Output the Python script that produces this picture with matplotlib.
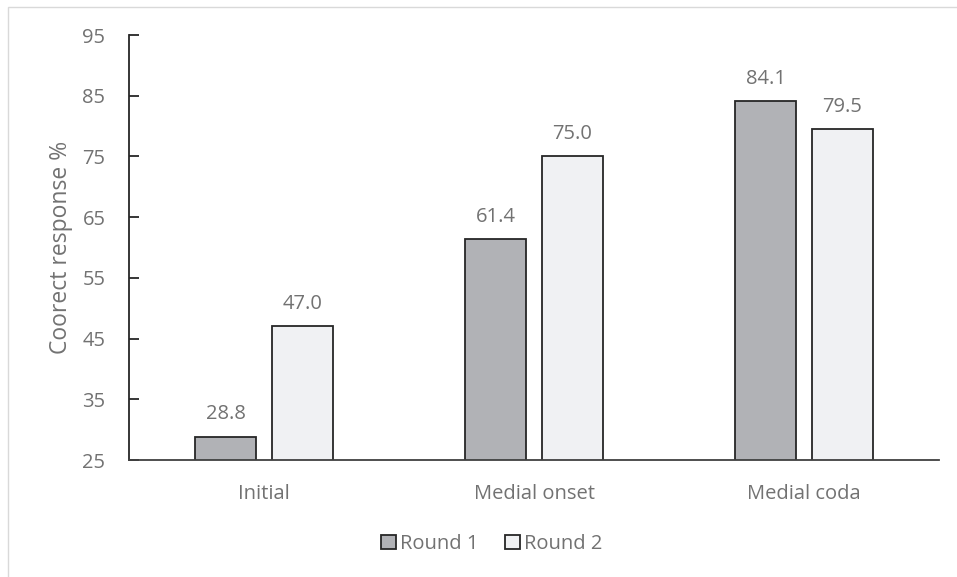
import matplotlib
matplotlib.use("Agg")
import matplotlib.pyplot as plt
import matplotlib.patches as mpatches
import numpy as np

categories = ["Initial", "Medial onset", "Medial coda"]
round1 = [28.8, 61.4, 84.1]
round2 = [47.0, 75.0, 79.5]
series_names = ["Round 1", "Round 2"]
yticks = [25, 35, 45, 55, 65, 75, 85, 95]

TEXT = "#727272"
plt.rcParams["font.family"] = ["Open Sans", "DejaVu Sans"]

W, H = 957, 577
fig = plt.figure(figsize=(W / 100, H / 100), dpi=100)

# light chart-area border
fig.patches.append(mpatches.Rectangle((8 / W, -0.1), 1.2, 1 - 7 / H + 0.1,
                                      transform=fig.transFigure, fill=False,
                                      edgecolor="#D9D9D9", linewidth=1.0))

ax = fig.add_axes([129 / W, 1 - 460 / H, (939 - 129) / W, (460 - 35) / H])

x = np.arange(len(categories))
width = 0.226
off = 0.142
b1 = ax.bar(x - off, round1, width, color="#B1B2B6", edgecolor="#262626",
            linewidth=1.3, label=series_names[0])
b2 = ax.bar(x + off, round2, width, color="#F0F1F3", edgecolor="#262626",
            linewidth=1.3, label=series_names[1])
ax.bar_label(b1, fmt="%.1f", padding=9, fontsize=14.5, color=TEXT)
ax.bar_label(b2, fmt="%.1f", padding=9, fontsize=14.5, color=TEXT)

ax.set_xlim(-0.5, 2.5)
ax.set_ylim(25, 95)
ax.set_yticks(yticks)
ax.set_xticks(x)
ax.set_xticklabels(categories)
ax.tick_params(axis="y", direction="in", length=7, width=1.3, colors="#262626",
               labelcolor=TEXT, labelsize=14.5, pad=17)
ax.tick_params(axis="x", length=0, labelcolor=TEXT, labelsize=14.5, pad=17)
ax.set_ylabel("Coorect response %", color=TEXT, fontsize=16.5, labelpad=7)

for s in ["top", "right"]:
    ax.spines[s].set_visible(False)
ax.spines["left"].set_color("#262626")
ax.spines["left"].set_linewidth(1.3)
ax.spines["bottom"].set_color("#404040")
ax.spines["bottom"].set_linewidth(1.3)

fig.legend(handles=[b1, b2], loc="center", bbox_to_anchor=(492 / W, 1 - 544 / H),
           ncol=2, frameon=False, fontsize=14.5, labelcolor=TEXT,
           handlelength=0.75, handleheight=0.75, handletextpad=0.2, columnspacing=1.3)

fig.savefig("out.png", dpi=100)
